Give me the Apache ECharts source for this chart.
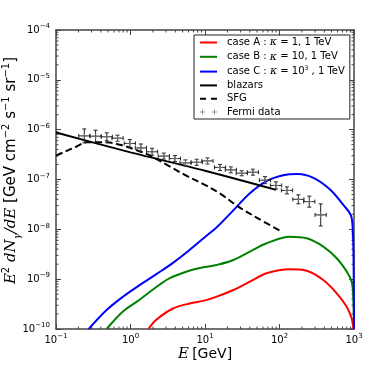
<!DOCTYPE html>
<html><head><meta charset="utf-8">
<script src="https://cdn.jsdelivr.net/npm/echarts@6/dist/echarts.min.js"></script>
<style>html,body{margin:0;padding:0;background:#fff}#c{width:374px;height:374px}</style>
</head><body><div id="c"></div>
<script>
// ---- data ----
const caseA_E = [1.74, 2.2, 3.72, 6.2, 10, 14.4, 24, 40, 67, 138, 232, 387, 586, 798, 931, 960, 985];
const caseA_Y = [1e-10, 1.52e-10, 2.58e-10, 3.25e-10, 3.75e-10, 4.46e-10, 6.07e-10, 8.9e-10, 1.31e-9, 1.58e-9, 1.48e-9, 9.6e-10, 5.2e-10, 2.8e-10, 1.64e-10, 1.3e-10, 1e-10];

const caseB_E = [0.479, 0.785, 1.31, 2.2, 3.32, 6.15, 10, 14.4, 24, 40, 67, 138, 232, 387, 586, 798, 931, 975, 1000];
const caseB_Y = [1e-10, 2.22e-10, 3.82e-10, 6.87e-10, 1.04e-9, 1.48e-9, 1.75e-9, 1.93e-9, 2.43e-9, 3.57e-9, 5.26e-9, 7.1e-9, 6.6e-9, 4.5e-9, 2.63e-9, 1.42e-9, 8.9e-10, 5e-10, 1e-10];

const caseC_E = [0.275, 0.47, 0.785, 1.31, 2.2, 3.68, 6.15, 10, 14.4, 24, 40, 67, 112, 175, 285, 477, 718, 903, 955, 985, 1000];
const caseC_Y = [1e-10, 2.35e-10, 4.4e-10, 7.5e-10, 1.25e-9, 2.1e-9, 3.8e-9, 7.0e-9, 1.1e-8, 2.4e-8, 5.3e-8, 9.3e-8, 1.22e-7, 1.29e-7, 1.08e-7, 6.3e-8, 3.1e-8, 1.95e-8, 1.2e-8, 3e-9, 1e-10];

const blazar_E = [0.1, 1, 10, 90];
const blazar_Y = [8.75e-7, 3.5e-7, 1.5e-7, 6.2e-8];

const sfg_E = [0.1, 0.125, 0.19, 0.26, 0.39, 0.53, 0.79, 1.19, 1.85, 3.3, 5.7, 10, 16, 28, 50, 100];
const sfg_Y = [3.0e-7, 3.5e-7, 4.6e-7, 5.6e-7, 5.6e-7, 5.5e-7, 4.8e-7, 3.9e-7, 3.0e-7, 1.85e-7, 1.18e-7, 7.8e-8, 5.2e-8, 2.86e-8, 1.7e-8, 9.5e-9];

const fermi_E   = [0.24, 0.34, 0.48, 0.67, 0.98, 1.38, 1.95, 2.80, 3.95, 5.47, 7.74, 10.8, 15.9, 22.2, 31.1, 43.9, 63.8, 89.7, 126, 179, 251, 357];
const fermi_Elo = [0.202, 0.286, 0.404, 0.564, 0.824, 1.16, 1.64, 2.35, 3.32, 4.60, 6.51, 9.08, 13.4, 18.7, 26.2, 36.9, 53.7, 75.4, 106, 151, 211, 300];
const fermi_Ehi = [0.285, 0.404, 0.571, 0.797, 1.165, 1.64, 2.32, 3.33, 4.70, 6.50, 9.20, 12.8, 18.9, 26.4, 37.0, 52.2, 75.9, 107, 150, 213, 298, 424];
const fermi_Y   = [7.5e-7, 7.4e-7, 7.2e-7, 6.75e-7, 5.3e-7, 4.3e-7, 3.6e-7, 2.95e-7, 2.63e-7, 2.15e-7, 2.22e-7, 2.36e-7, 1.75e-7, 1.56e-7, 1.34e-7, 1.40e-7, 9.7e-8, 7.6e-8, 6.05e-8, 4.0e-8, 3.6e-8, 1.95e-8];
const fermi_Ylo = [5.43e-7, 5.6e-7, 6.0e-7, 5.87e-7, 4.42e-7, 3.58e-7, 3.06e-7, 2.57e-7, 2.29e-7, 1.87e-7, 1.93e-7, 2.05e-7, 1.52e-7, 1.36e-7, 1.19e-7, 1.22e-7, 8.25e-8, 6.46e-8, 5.14e-8, 3.25e-8, 2.79e-8, 1.17e-8];
const fermi_Yhi = [1.035e-6, 9.77e-7, 8.64e-7, 7.76e-7, 6.36e-7, 5.16e-7, 4.23e-7, 3.39e-7, 3.02e-7, 2.47e-7, 2.55e-7, 2.71e-7, 2.01e-7, 1.79e-7, 1.50e-7, 1.61e-7, 1.14e-7, 8.94e-8, 7.11e-8, 4.92e-8, 4.64e-8, 3.24e-8];

const xMin = 0.1, xMax = 1000, yMin = 1e-10, yMax = 1e-4;
const xMinorTicks = [0.2,0.3,0.4,0.5,0.6,0.7,0.8,0.9, 2,3,4,5,6,7,8,9, 20,30,40,50,60,70,80,90, 200,300,400,500,600,700,800,900];
const yMinorTicks = [];
[-10,-9,-8,-7,-6,-5].forEach(function(p){ [2,3,4,5,6,7,8,9].forEach(function(m){ yMinorTicks.push(Number((m*Math.pow(10,p)).toPrecision(3))); }); });

const legendNames = {
  caseA: '{t|case A : }{k|κ}{t| = 1, 1 TeV}',
  caseB: '{t|case B : }{k|κ}{t| = 10, 1 TeV}',
  caseC: '{t|case C : }{k|κ}{t| = 10}{s|3}{t| , 1 TeV}',
  blazars: '{t|blazars}',
  SFG: '{t|SFG}',
  fermi: '{t|Fermi data}'
};

function zip(a, b){ return a.map(function(v,i){ return [v, b[i]]; }); }
const fermiTable = fermi_E.map(function(e,i){ return [e, fermi_Y[i], fermi_Elo[i], fermi_Ehi[i], fermi_Ylo[i], fermi_Yhi[i]]; });

function powLabel(v){
  const p = Math.round(Math.log10(v));
  return '{b|10}{s|' + (p < 0 ? '\u2212' + (-p) : p) + '}';
}
const labelRich = {
  b: {fontSize: 10, fontFamily: 'DejaVu Sans', color: '#000', lineHeight: 14},
  s: {fontSize: 7, fontFamily: 'DejaVu Sans', color: '#000', lineHeight: 8, verticalAlign: 'top'}
};
const axisColor = '#444';
const frameTick = {show: true, inside: true, length: 5, lineStyle: {color: axisColor, width: 1}};
const solidIcon = 'path://M0,0h17v2h-17z';
const dashIcon = 'path://M0,0h6v2h-6z M11,0h6v2h-6z';

const chart = echarts.init(document.getElementById('c'), null, {renderer: 'canvas'});
const option = {
  animation: false,
  backgroundColor: '#fff',
  grid: {left: 56, right: 20, top: 30, bottom: 45, containLabel: false, outerBoundsMode: 'none'},
  legend: {
    orient: 'vertical', left: 194, top: 35,
    padding: [2, 5, 2, 6], itemGap: 3.3, itemWidth: 17, itemHeight: 12,
    backgroundColor: '#fff', borderColor: '#222', borderWidth: 1, borderRadius: 0,
    textStyle: {padding: [0,0,0,5], rich: {
      t: {fontSize: 10, fontFamily: 'DejaVu Sans', color: '#000', lineHeight: 12},
      k: {fontSize: 11, fontFamily: 'DejaVu Serif', fontStyle: 'italic', color: '#000', lineHeight: 12},
      s: {fontSize: 6, fontFamily: 'DejaVu Sans', color: '#000', lineHeight: 6, verticalAlign: 'top'}
    }},
    formatter: function(n){ return legendNames[n]; },
    data: [
      {name: 'caseA', icon: solidIcon},
      {name: 'caseB', icon: solidIcon},
      {name: 'caseC', icon: solidIcon},
      {name: 'blazars', icon: solidIcon},
      {name: 'SFG', icon: dashIcon},
      {name: 'fermi', icon: 'path://M0,5.5h5v1h-5z M2,3.5h1v5h-1z M12,5.5h5v1h-5z M14,3.5h1v5h-1z', itemStyle: {color: '#777'}}]
  },
  xAxis: [{
    type: 'log', logBase: 10, min: xMin, max: xMax, position: 'bottom',
    axisLine: {show: true, onZero: false, lineStyle: {color: axisColor, width: 1.5}},
    axisTick: frameTick, splitLine: {show: false},
    axisLabel: {margin: 4, formatter: powLabel, rich: labelRich},
    name: '{i|E} {n|[GeV]}', nameLocation: 'middle', nameGap: 18, nameMoveOverlap: false,
    nameTextStyle: {rich: {
      i: {fontSize: 15, fontFamily: 'DejaVu Serif', fontStyle: 'italic', color: '#000'},
      n: {fontSize: 14, fontFamily: 'DejaVu Sans', color: '#000'}
    }}
  }, {
    type: 'log', logBase: 10, min: xMin, max: xMax, position: 'top',
    axisLine: {show: true, onZero: false, lineStyle: {color: axisColor, width: 1.5}},
    axisTick: frameTick, axisLabel: {show: false}, splitLine: {show: false}
  }],
  yAxis: [{
    type: 'log', logBase: 10, min: yMin, max: yMax, position: 'left',
    axisLine: {show: true, onZero: false, lineStyle: {color: axisColor, width: 1.5}},
    axisTick: frameTick, splitLine: {show: false},
    axisLabel: {margin: 6, formatter: powLabel, rich: labelRich},
    name: '{i|E}{sup|2}{n| }{i|dN}{sub|γ}{i|/dE}{n| [GeV cm}{sup|−2}{n| s}{sup|−1}{n| sr}{sup|−1}{n|]}',
    nameLocation: 'middle', nameGap: 34, nameRotate: 90, nameMoveOverlap: false,
    nameTextStyle: {padding: [0, 0, 0, 18], rich: {
      i: {fontSize: 15, fontFamily: 'DejaVu Serif', fontStyle: 'italic', color: '#000', lineHeight: 21},
      n: {fontSize: 15, fontFamily: 'DejaVu Sans', color: '#000', lineHeight: 21},
      sup: {fontSize: 10, fontFamily: 'DejaVu Sans', color: '#000', lineHeight: 11, verticalAlign: 'top'},
      sub: {fontSize: 10, fontFamily: 'DejaVu Serif', fontStyle: 'italic', color: '#000', lineHeight: 11, verticalAlign: 'bottom'}
    }}
  }, {
    type: 'log', logBase: 10, min: yMin, max: yMax, position: 'right',
    axisLine: {show: true, onZero: false, lineStyle: {color: axisColor, width: 1.5}},
    axisTick: frameTick, axisLabel: {show: false}, splitLine: {show: false}
  }],
  series: [
    {name: 'caseA', type: 'line', data: zip(caseA_E, caseA_Y), symbol: 'none', showSymbol: false, smooth: 0.35,
     lineStyle: {color: '#ff0000', width: 2}, itemStyle: {color: '#ff0000'}, z: 3},
    {name: 'caseB', type: 'line', data: zip(caseB_E, caseB_Y), symbol: 'none', showSymbol: false, smooth: 0.35,
     lineStyle: {color: '#008000', width: 2}, itemStyle: {color: '#008000'}, z: 3},
    {name: 'caseC', type: 'line', data: zip(caseC_E, caseC_Y), symbol: 'none', showSymbol: false, smooth: 0.35,
     lineStyle: {color: '#0000ff', width: 2}, itemStyle: {color: '#0000ff'}, z: 3},
    {name: 'blazars', type: 'line', data: zip(blazar_E, blazar_Y), symbol: 'none', showSymbol: false, smooth: 0.3,
     lineStyle: {color: '#000', width: 2}, itemStyle: {color: '#000'}, z: 4},
    {name: 'SFG', type: 'line', data: zip(sfg_E, sfg_Y), symbol: 'none', showSymbol: false, smooth: 0.35,
     lineStyle: {color: '#000', width: 2, type: [7, 3.5]}, itemStyle: {color: '#000'}, z: 4},
    {name: 'fermiErr', type: 'custom', data: fermiTable, z: 5, silent: true,
     renderItem: function(params, api){
       const c = api.coord([api.value(0), api.value(1)]);
       const xl = api.coord([api.value(2), api.value(1)])[0];
       const xh = api.coord([api.value(3), api.value(1)])[0];
       const yl = api.coord([api.value(0), api.value(4)])[1];
       const yh = api.coord([api.value(0), api.value(5)])[1];
       const st = {stroke: '#222', lineWidth: 1, fill: null};
       const cap = 2;
       return {type: 'group', children: [
         {type: 'line', shape: {x1: xl, y1: c[1], x2: xh, y2: c[1]}, style: st},
         {type: 'line', shape: {x1: c[0], y1: yl, x2: c[0], y2: yh}, style: st},
         {type: 'line', shape: {x1: c[0]-cap, y1: yl, x2: c[0]+cap, y2: yl}, style: st},
         {type: 'line', shape: {x1: c[0]-cap, y1: yh, x2: c[0]+cap, y2: yh}, style: st},
         {type: 'line', shape: {x1: xl, y1: c[1]-cap, x2: xl, y2: c[1]+cap}, style: st},
         {type: 'line', shape: {x1: xh, y1: c[1]-cap, x2: xh, y2: c[1]+cap}, style: st}
       ]};
     }},
    {name: 'fermi', type: 'scatter', data: zip(fermi_E, fermi_Y), z: 6, silent: true,
     symbol: 'path://M0,2.5h6v1h-6z M2.5,0h1v6h-1z', symbolSize: 6, itemStyle: {color: '#777'}},
    {name: 'xminor', type: 'custom', silent: true, z: 2,
     data: xMinorTicks.map(function(v){ return [v, yMin]; }),
     renderItem: function(params, api){
       const cs = params.coordSys;
       const x = api.coord([api.value(0), yMin])[0];
       const st = {stroke: axisColor, lineWidth: 1};
       return {type: 'group', children: [
         {type: 'line', shape: {x1: x, y1: cs.y + cs.height, x2: x, y2: cs.y + cs.height - 2.5}, style: st},
         {type: 'line', shape: {x1: x, y1: cs.y, x2: x, y2: cs.y + 2.5}, style: st}
       ]};
     }},
    {name: 'yminor', type: 'custom', silent: true, z: 2,
     data: yMinorTicks.map(function(v){ return [xMin, v]; }),
     renderItem: function(params, api){
       const cs = params.coordSys;
       const y = api.coord([xMin, api.value(1)])[1];
       const st = {stroke: axisColor, lineWidth: 1};
       return {type: 'group', children: [
         {type: 'line', shape: {x1: cs.x, y1: y, x2: cs.x + 2.5, y2: y}, style: st},
         {type: 'line', shape: {x1: cs.x + cs.width, y1: y, x2: cs.x + cs.width - 2.5, y2: y}, style: st}
       ]};
     }}
  ]
};
chart.setOption(option);
</script>
</body></html>
